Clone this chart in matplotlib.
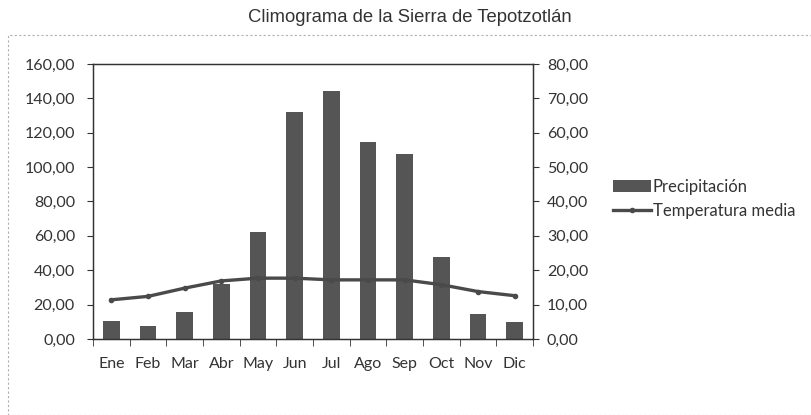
import matplotlib.pyplot as plt
import numpy as np
from matplotlib.patches import Rectangle
from matplotlib.ticker import FuncFormatter, FixedLocator

meses = ["Ene", "Feb", "Mar", "Abr", "May", "Jun", "Jul", "Ago", "Sep", "Oct", "Nov", "Dic"]
precipitacion = [10.5, 7.5, 16.0, 32.0, 62.5, 132.0, 144.5, 114.5, 107.5, 48.0, 14.5, 10.0]
temperatura = [11.4, 12.4, 14.8, 16.9, 17.7, 17.7, 17.2, 17.2, 17.2, 15.8, 13.8, 12.6]


def coma(v, pos):
    return f"{v:.2f}".replace(".", ",")


tick_font = "Lato"
fig = plt.figure(figsize=(8.11, 4.15), dpi=100)
fig.patch.set_facecolor("white")

# marco exterior punteado del grafico
fig.patches.append(Rectangle((8 / 811, 0), 1, 1 - 35 / 415, transform=fig.transFigure,
                             fill=False, edgecolor="#b0b0b0", linewidth=0.8, linestyle=(0, (2, 2))))

ax = fig.add_axes([93 / 811, 1 - 339 / 415, 440 / 811, 275 / 415])
x = np.arange(len(meses))
barras = ax.bar(x, precipitacion, width=0.46, color="#555555", label="Precipitación", zorder=2)
ax.set_xlim(-0.5, len(meses) - 0.5)
ax.set_ylim(0, 160)
ax.set_yticks(np.arange(0, 161, 20))
ax.yaxis.set_major_formatter(FuncFormatter(coma))
ax.set_xticks(x)
ax.set_xticklabels(meses)
ax.xaxis.set_minor_locator(FixedLocator(np.arange(-0.5, len(meses), 1)))
ax.tick_params(axis="x", which="major", length=0, pad=13)
ax.tick_params(axis="x", which="minor", length=5, direction="out", color="#333333")
ax.tick_params(axis="y", length=4, direction="out", color="#333333", pad=9)
for lab in ax.get_xticklabels() + ax.get_yticklabels():
    lab.set_fontfamily(tick_font)
    lab.set_fontsize(11.5)
    lab.set_color("#333333")
for s in ax.spines.values():
    s.set_color("#333333")
    s.set_linewidth(1.0)

ax2 = ax.twinx()
linea, = ax2.plot(x, temperatura, color="#4a4a4a", linewidth=2.4, marker="o", markersize=3,
                  label="Temperatura media", zorder=3)
ax2.set_ylim(0, 80)
ax2.set_yticks(np.arange(0, 81, 10))
ax2.yaxis.set_major_formatter(FuncFormatter(coma))
ax2.tick_params(axis="y", length=4, direction="out", color="#333333", pad=6)
for lab in ax2.get_yticklabels():
    lab.set_fontfamily(tick_font)
    lab.set_fontsize(11.5)
    lab.set_color("#333333")
for s in ax2.spines.values():
    s.set_color("#333333")

fig.text(410 / 811, 1 - 17 / 415, "Climograma de la Sierra de Tepotzotlán", ha="center", va="center",
         fontsize=13.3, family="Liberation Sans", color="#333333")

leg = fig.legend([barras, linea], ["Precipitación", "Temperatura media"], loc="upper left",
                 bbox_to_anchor=(598 / 811, 1 - 164 / 415), frameon=False, handlelength=2.3,
                 handletextpad=0.1, labelspacing=0.45, prop={"family": tick_font, "size": 12})
for t in leg.get_texts():
    t.set_color("#333333")

fig.savefig("out.png", dpi=100)
